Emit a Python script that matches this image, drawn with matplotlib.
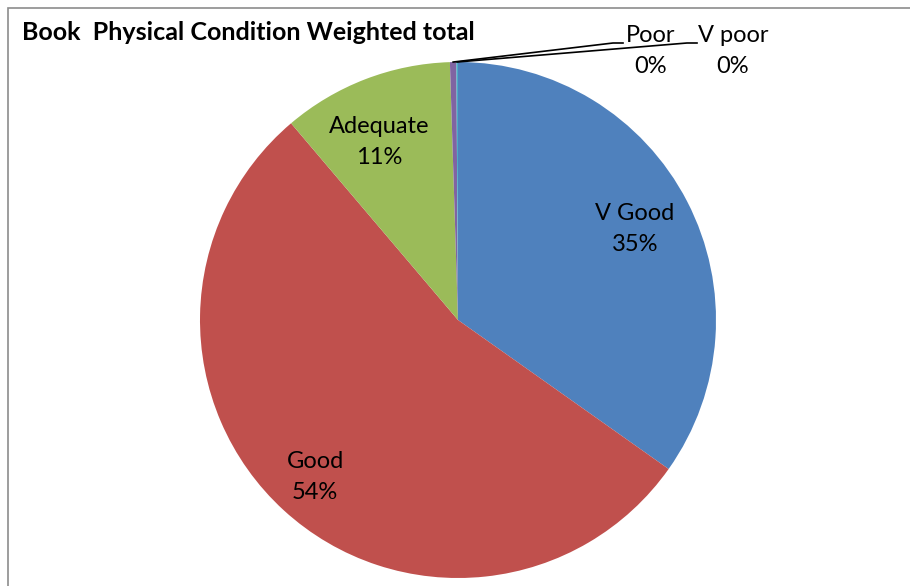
import matplotlib
matplotlib.use("Agg")
import matplotlib.pyplot as plt
from matplotlib.patches import Rectangle
import numpy as np

categories = ["V Good", "Good", "Adequate", "Poor", "V poor"]
values = [34.8, 54.0, 10.7, 0.4, 0.1]
colors = ["#4F81BD", "#C0504D", "#9BBB59", "#8064A2", "#4BACC6"]
title = "Book  Physical Condition Weighted total"

W, H = 910, 586
fig = plt.figure(figsize=(W / 100, H / 100), dpi=100)
plt.rcParams['font.family'] = ['Lato', 'DejaVu Sans']

# border
fig.patches.append(Rectangle((8 / W, -0.05), 1.1, (H - 8) / H + 0.05, transform=fig.transFigure,
                             fill=False, edgecolor="#8C8C8C", linewidth=1.2))

cx, cy, r = 458, 320, 258
ax = fig.add_axes([(cx - r) / W, (H - cy - r) / H, 2 * r / W, 2 * r / H])

wedges, _ = ax.pie(values, colors=colors, startangle=90, counterclock=False, radius=1,
                   wedgeprops=dict(linewidth=0))
ax.set_xlim(-1, 1)
ax.set_ylim(-1, 1)
ax.set_aspect('equal')
ax.axis('off')

def px2d(px, py):
    return (px - cx) / r, (cy - py) / r

total = sum(values)
label_pos = [(635, 229), (315, 477), (379, 142), (651, 51), (733, 51)]
fs = 17
for name, v, (px, py) in zip(categories, values, label_pos):
    x, y = px2d(px, py)
    ax.text(x, y, f"{name}\n{round(v / total * 100)}%", ha='center', va='center',
            fontsize=fs, linespacing=1.55, clip_on=False)

# leader lines for small slices
ends = {3: (613, 43, 623), 4: (687, 43, 697)}
for i, (ex, ey, hx) in ends.items():
    w = wedges[i]
    th = np.deg2rad((w.theta1 + w.theta2) / 2)
    sx, sy = np.cos(th), np.sin(th)
    x1, y1 = px2d(ex, ey)
    x2, _ = px2d(hx, ey)
    ax.plot([sx, x1, x2], [sy, y1, y1], color='black', linewidth=1.2, clip_on=False)

fig.text(22 / W, 1 - 32 / H, title, fontsize=18, fontweight='bold', ha='left', va='center')

fig.savefig("out.png", dpi=100, facecolor='white')
